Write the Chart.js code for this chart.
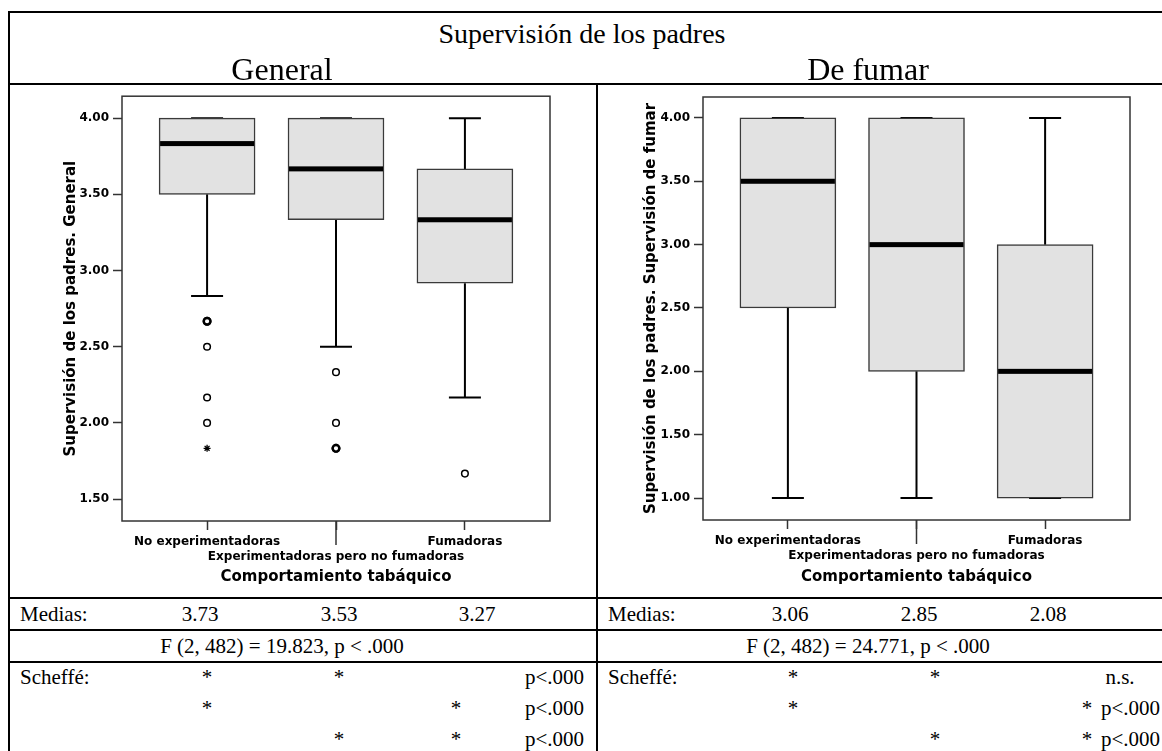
<!DOCTYPE html>
<html lang="es">
<head>
<meta charset="utf-8">
<title>Supervisión de los padres</title>
<script src="https://cdn.jsdelivr.net/npm/chart.js@4.4.0/dist/chart.umd.min.js"></script>
<style>
  html, body { margin: 0; padding: 0; background: #fff; }
  #hoja { position: relative; width: 1162px; height: 751px; overflow: hidden;
          font-family: "Liberation Serif", "Times New Roman", serif; color: #000; }
  .raya { position: absolute; background: #000; }
  .txt { position: absolute; white-space: nowrap; }
  .plot { position: absolute; width: 560px; height: 510px; }
</style>
</head>
<body>
<div id="hoja">
  <div class="plot" style="left:20px;top:85px"><canvas id="chartGeneral"></canvas></div>
  <div class="plot" style="left:600px;top:85px"><canvas id="chartFumar"></canvas></div>
</div>
<script>
// grupos de comportamiento tabáquico
const grupos = ["No experimentadoras", "Experimentadoras pero no fumadoras", "Fumadoras"];

// supervisión general
const genQ1 = [3.5, 3.333, 2.917];
const genMediana = [3.833, 3.667, 3.333];
const genQ3 = [4.0, 4.0, 3.667];
const genBigoteInf = [2.833, 2.5, 2.167];
const genBigoteSup = [4.0, 4.0, 4.0];
const genAtipicos = [[2.667, 2.667, 2.5, 2.167, 2.0], [2.333, 2.0, 1.833, 1.833], [1.667]];
const genExtremos = [[1.833], [], []];
const genTicks = [1.5, 2.0, 2.5, 3.0, 3.5, 4.0];

// supervisión de fumar
const fumQ1 = [2.5, 2.0, 1.0];
const fumMediana = [3.5, 3.0, 2.0];
const fumQ3 = [4.0, 4.0, 3.0];
const fumBigoteInf = [1.0, 1.0, 1.0];
const fumBigoteSup = [4.0, 4.0, 4.0];
const fumAtipicos = [[], [], []];
const fumExtremos = [[], [], []];
const fumTicks = [1.0, 1.5, 2.0, 2.5, 3.0, 3.5, 4.0];

// tabla de resultados
const mediasGen = ["3.73", "3.53", "3.27"];
const mediasFum = ["3.06", "2.85", "2.08"];
const anovaGen = "F (2, 482) = 19.823, p < .000";
const anovaFum = "F (2, 482) = 24.771, p < .000";
const scheffeGen = [["*", "*", "", "p<.000"], ["*", "", "*", "p<.000"], ["", "*", "*", "p<.000"]];
const scheffeFum = [["*", "*", "", "n.s."], ["*", "", "*", "p<.000"], ["", "*", "*", "p<.000"]];

Chart.defaults.font.family = "'DejaVu Sans', Verdana, sans-serif";
Chart.defaults.color = "#000";

// bigotes, medianas y marco del gráfico
function pluginCajas(bajo, alto, q1, q3, mediana) {
  return {
    id: "cajas",
    beforeDatasetsDraw(chart) {
      const ctx = chart.ctx, a = chart.chartArea;
      const x = chart.scales.x, y = chart.scales.y;
      ctx.save();
      ctx.strokeStyle = "#333";
      ctx.lineWidth = 1.5;
      ctx.strokeRect(a.left, a.top, a.right - a.left, a.bottom - a.top);
      // tick largo del grupo del medio
      const xm = x.getPixelForValue(1);
      ctx.beginPath();
      ctx.moveTo(xm, a.bottom);
      ctx.lineTo(xm, a.bottom + 24);
      ctx.stroke();
      ctx.strokeStyle = "#000";
      ctx.lineWidth = 2;
      for (let i = 0; i < q1.length; i++) {
        const cx = x.getPixelForValue(i);
        const yb = y.getPixelForValue(bajo[i]), ya = y.getPixelForValue(alto[i]);
        const y1 = y.getPixelForValue(q1[i]), y3 = y.getPixelForValue(q3[i]);
        ctx.beginPath();
        ctx.moveTo(cx, y1); ctx.lineTo(cx, yb);
        ctx.moveTo(cx, y3); ctx.lineTo(cx, ya);
        ctx.moveTo(cx - 16, yb); ctx.lineTo(cx + 16, yb);
        ctx.moveTo(cx - 16, ya); ctx.lineTo(cx + 16, ya);
        ctx.stroke();
      }
      ctx.restore();
    },
    afterDatasetsDraw(chart) {
      const ctx = chart.ctx;
      const x = chart.scales.x, y = chart.scales.y;
      ctx.save();
      ctx.fillStyle = "#000";
      for (let i = 0; i < mediana.length; i++) {
        const cx = x.getPixelForValue(i);
        const ym = y.getPixelForValue(mediana[i]);
        ctx.fillRect(cx - 47, ym - 2.5, 94, 5);
      }
      ctx.restore();
    }
  };
}

function crearBoxplot(id, cfg) {
  const puntos = (lista) => lista.flatMap((vals, i) => vals.map(v => ({ x: i, y: v })));
  // los casos repetidos se ven con trazo más grueso
  const grosor = (lista) => (c) => {
    const p = c.raw;
    if (!p) return 1.5;
    const n = lista[p.x].filter(v => v === p.y).length;
    return n > 1 ? 2.4 : 1.5;
  };
  return new Chart(document.getElementById(id), {
    type: "bar",
    data: {
      datasets: [
        {
          type: "bar",
          data: grupos.map((g, i) => ({ x: i, y: [cfg.q1[i], cfg.q3[i]] })),
          backgroundColor: "#e2e2e2",
          borderColor: "#3a3a3a",
          borderWidth: 1.5,
          borderSkipped: false,
          barThickness: 96
        },
        {
          type: "scatter",
          data: puntos(cfg.atipicos),
          pointStyle: "circle",
          pointRadius: 3.3,
          pointBorderWidth: grosor(cfg.atipicos),
          pointBorderColor: "#000",
          pointBackgroundColor: "#fff"
        },
        {
          type: "scatter",
          data: puntos(cfg.extremos),
          pointStyle: "star",
          pointRadius: 3.5,
          pointBorderWidth: 1.3,
          pointBorderColor: "#000"
        }
      ]
    },
    options: {
      responsive: true,
      maintainAspectRatio: false,
      animation: false,
      layout: { padding: cfg.padding },
      plugins: { legend: { display: false }, tooltip: { enabled: false } },
      scales: {
        x: {
          type: "linear",
          min: -0.66,
          max: 2.66,
          offset: false,
          border: { display: false },
          grid: { display: true, offset: false, drawOnChartArea: false, tickLength: 9, tickColor: "#333", tickWidth: 1.5 },
          afterBuildTicks: s => { s.ticks = grupos.map((g, i) => ({ value: i })); },
          afterFit: s => { s.height = cfg.altoX; },
          ticks: {
            autoSkip: false, maxRotation: 0, minRotation: 0, padding: 4,
            font: { size: 12, weight: "bold", lineHeight: 1.25 },
            callback: v => (v === 1 ? ["", grupos[1]] : grupos[v])
          },
          title: {
            display: true, text: "Comportamiento tabáquico",
            font: { size: 15, weight: "bold" }, padding: { top: 0, bottom: 9 }
          }
        },
        y: {
          min: cfg.yMin,
          max: cfg.yMax,
          border: { display: false },
          grid: { display: true, drawOnChartArea: false, tickLength: 9, tickColor: "#333", tickWidth: 1.5 },
          afterBuildTicks: s => { s.ticks = cfg.ticks.map(v => ({ value: v })); },
          afterFit: s => { s.width = cfg.anchoY; },
          ticks: { padding: 4, font: { size: 12, weight: "bold" }, callback: v => v.toFixed(2) },
          title: {
            display: true, text: cfg.tituloY,
            font: { size: 15, weight: "bold" }, padding: { top: 4, bottom: 0 }
          }
        }
      }
    },
    plugins: [pluginCajas(cfg.bajo, cfg.alto, cfg.q1, cfg.q3, cfg.mediana)]
  });
}

crearBoxplot("chartGeneral", {
  q1: genQ1, q3: genQ3, mediana: genMediana, bajo: genBigoteInf, alto: genBigoteSup,
  atipicos: genAtipicos, extremos: genExtremos, ticks: genTicks,
  yMin: 1.356, yMax: 4.144, tituloY: "Supervisión de los padres. General",
  padding: { left: 38, top: 11, right: 30, bottom: 0 }, anchoY: 64, altoX: 74
});

crearBoxplot("chartFumar", {
  q1: fumQ1, q3: fumQ3, mediana: fumMediana, bajo: fumBigoteInf, alto: fumBigoteSup,
  atipicos: fumAtipicos, extremos: fumExtremos, ticks: fumTicks,
  yMin: 0.827, yMax: 4.165, tituloY: "Supervisión de los padres. Supervisión de fumar",
  padding: { left: 38, top: 12, right: 30, bottom: 0 }, anchoY: 65, altoX: 75
});

// rejilla de la tabla
const hoja = document.getElementById("hoja");
function raya(x, y, w, h) {
  const d = document.createElement("div");
  d.className = "raya";
  Object.assign(d.style, { left: x + "px", top: y + "px", width: w + "px", height: h + "px" });
  hoja.appendChild(d);
}
// texto colocado por su línea base
function texto(str, x, base, size, align) {
  const s = document.createElement("span");
  s.className = "txt";
  s.textContent = str;
  s.style.fontSize = size + "px";
  s.style.lineHeight = size + "px";
  s.style.top = (base - 0.8375 * size) + "px";
  s.style.left = x + "px";
  if (align === "center") s.style.transform = "translateX(-50%)";
  if (align === "right") s.style.transform = "translateX(-100%)";
  hoja.appendChild(s);
}

raya(8, 11, 1160, 2);
raya(8, 11, 2, 740);
raya(8, 83, 1160, 2);
raya(596, 83, 2, 668);
raya(8, 597, 1160, 2);
raya(8, 629, 1160, 2);
raya(8, 661, 1160, 2);

texto("Supervisión de los padres", 582, 43, 28, "center");
texto("General", 282, 80, 32, "center");
texto("De fumar", 868, 80, 32, "center");

const TAM = 21;
// mitad izquierda: General
texto("Medias:", 20, 622, TAM, "left");
[200, 339, 477].forEach((x, i) => texto(mediasGen[i], x, 622, TAM, "center"));
texto(anovaGen, 282, 654, TAM, "center");
texto("Scheffé:", 20, 685, TAM, "left");
scheffeGen.forEach((fila, r) => {
  const base = 685 + r * 31;
  [207, 339, 456].forEach((x, c) => { if (fila[c]) texto(fila[c], x, base, TAM, "center"); });
  texto(fila[3], 584, base, TAM, "right");
});

// mitad derecha: De fumar
texto("Medias:", 608, 622, TAM, "left");
[790, 919, 1048].forEach((x, i) => texto(mediasFum[i], x, 622, TAM, "center"));
texto(anovaFum, 868, 654, TAM, "center");
texto("Scheffé:", 608, 685, TAM, "left");
scheffeFum.forEach((fila, r) => {
  const base = 685 + r * 31;
  [793, 935, 1087].forEach((x, c) => { if (fila[c]) texto(fila[c], x, base, TAM, "center"); });
  if (fila[3] === "n.s.") texto(fila[3], 1120, base, TAM, "center");
  else texto(fila[3], 1160, base, TAM, "right");
});
</script>
</body>
</html>
